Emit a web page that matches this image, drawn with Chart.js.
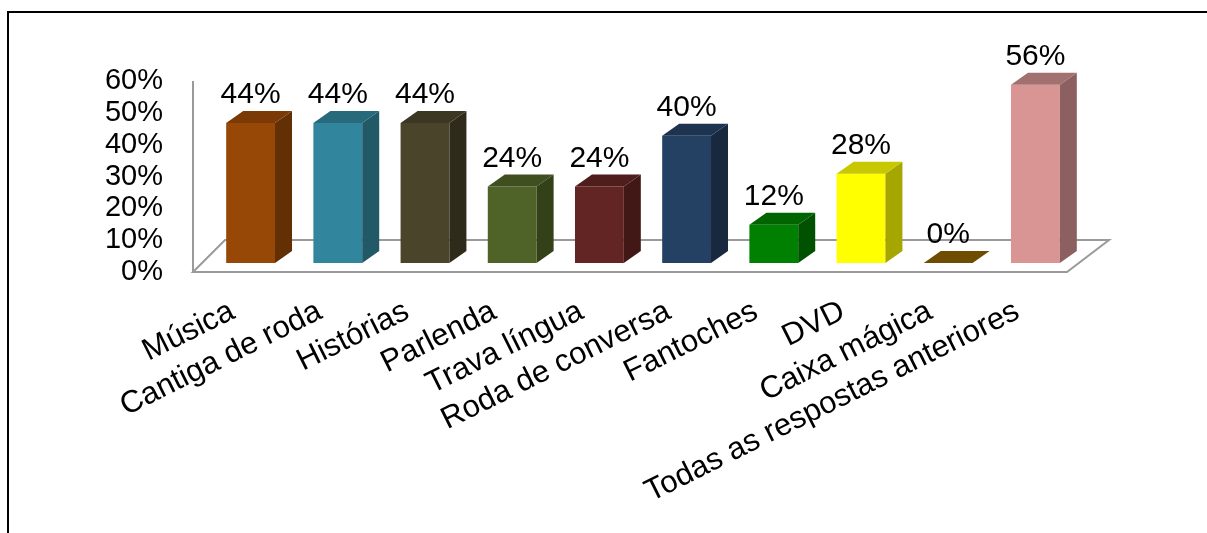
<!DOCTYPE html>
<html>
<head>
<meta charset="utf-8">
<title>Recursos</title>
<script src="https://cdn.jsdelivr.net/npm/chart.js@4.4.1/dist/chart.umd.min.js"></script>
<style>
  html, body { margin: 0; padding: 0; background: #fff; }
  #wrap { position: relative; width: 1207px; height: 533px; overflow: hidden; }
  #frame { position: absolute; left: 7px; top: 11px; width: 1300px; height: 600px; border: 2px solid #000; box-sizing: border-box; }
  #chart { position: absolute; left: 0; top: 0; }
</style>
</head>
<body>
<div id="wrap">
  <div id="frame"></div>
  <canvas id="chart" width="1207" height="533"></canvas>
</div>
<script>
const categories = [
  "Música", "Cantiga de roda", "Histórias", "Parlenda", "Trava língua",
  "Roda de conversa", "Fantoches", "DVD", "Caixa mágica", "Todas as respostas anteriores"
];
const percentages = [44, 44, 44, 24, 24, 40, 12, 28, 0, 56];
const yTicks = [0, 10, 20, 30, 40, 50, 60];

// face colours: front, right side, top
const frontColors = ["#974706", "#31859c", "#4a452a", "#4f6228", "#632523", "#244062", "#008000", "#ffff00", "#7f5a00", "#d99594"];
const sideColors  = ["#632f04", "#215967", "#2e2b1a", "#334018", "#421816", "#17283f", "#005200", "#a6a600", "#5c4000", "#8c6060"];
const topColors   = ["#7a3905", "#276a7c", "#3b3722", "#3f4f20", "#4f1d1c", "#1d3350", "#006400", "#c8c800", "#6e4c00", "#a37070"];

const FONT = "'Liberation Sans', Arial, sans-serif";
const DX = 17, DY = 12;

// floor of the 3d plot and the value axis line
const floorPlugin = {
  id: "floor",
  beforeDatasetsDraw(chart) {
    const { ctx, chartArea } = chart;
    const y0 = chart.scales.y.getPixelForValue(0);
    const yMax = chart.scales.y.getPixelForValue(yTicks[yTicks.length - 1]);
    const L = chartArea.left, R = chartArea.right;
    ctx.save();
    ctx.beginPath();
    ctx.moveTo(L - 14, y0 + 9);
    ctx.lineTo(L + 18, y0 - 23);
    ctx.lineTo(R + 30, y0 - 23);
    ctx.lineTo(R - 12, y0 + 9);
    ctx.closePath();
    ctx.fillStyle = "#fff";
    ctx.fill();
    ctx.strokeStyle = "#9a9a9a";
    ctx.lineWidth = 2;
    ctx.stroke();
    ctx.beginPath();
    ctx.moveTo(L - 14, yMax + 9);
    ctx.lineTo(L - 14, y0 + 9);
    ctx.stroke();
    ctx.restore();
  }
};

// side and top faces of each bar, then the value above it
const bars3dPlugin = {
  id: "bars3d",
  afterDatasetsDraw(chart) {
    const { ctx } = chart;
    const meta = chart.getDatasetMeta(0);
    ctx.save();
    meta.data.forEach((bar, i) => {
      const { x, y, base, width } = bar.getProps(["x", "y", "base", "width"], true);
      const l = x - width / 2, r = x + width / 2;

      ctx.fillStyle = sideColors[i];
      ctx.beginPath();
      ctx.moveTo(r, y);
      ctx.lineTo(r + DX, y - DY);
      ctx.lineTo(r + DX, base - DY);
      ctx.lineTo(r, base);
      ctx.closePath();
      ctx.fill();

      ctx.fillStyle = topColors[i];
      ctx.beginPath();
      ctx.moveTo(l, y);
      ctx.lineTo(l + DX, y - DY);
      ctx.lineTo(r + DX, y - DY);
      ctx.lineTo(r, y);
      ctx.closePath();
      ctx.fill();

      ctx.fillStyle = "#000";
      ctx.font = "30px " + FONT;
      ctx.textAlign = "center";
      ctx.textBaseline = "alphabetic";
      ctx.fillText(percentages[i] + "%", x, y - 20);
    });
    ctx.restore();
  }
};

new Chart(document.getElementById("chart").getContext("2d"), {
  type: "bar",
  data: {
    labels: categories,
    datasets: [{
      data: percentages,
      backgroundColor: frontColors,
      borderWidth: 0,
      barPercentage: 0.56,
      categoryPercentage: 1
    }]
  },
  options: {
    responsive: false,
    animation: false,
    layout: { padding: { top: 72, right: 128, left: 0, bottom: 0 } },
    plugins: { legend: { display: false }, tooltip: { enabled: false } },
    scales: {
      x: {
        grid: { display: false, drawTicks: false },
        border: { display: false },
        ticks: {
          color: "#000",
          font: { family: FONT, size: 31 },
          minRotation: 26.5,
          maxRotation: 26.5,
          autoSkip: false,
          padding: 30,
          labelOffset: -18
        },
        afterFit(s) { s.height = 270; }
      },
      y: {
        min: 0,
        max: 60,
        grid: { display: false, drawTicks: false },
        border: { display: false },
        afterBuildTicks(s) { s.ticks = yTicks.map(v => ({ value: v })); },
        ticks: {
          color: "#000",
          font: { family: FONT, size: 29 },
          autoSkip: false,
          padding: 44,
          labelOffset: 9,
          callback: v => v + "%"
        },
        afterFit(s) { s.width = 207; }
      }
    }
  },
  plugins: [floorPlugin, bars3dPlugin]
});
</script>
</body>
</html>
